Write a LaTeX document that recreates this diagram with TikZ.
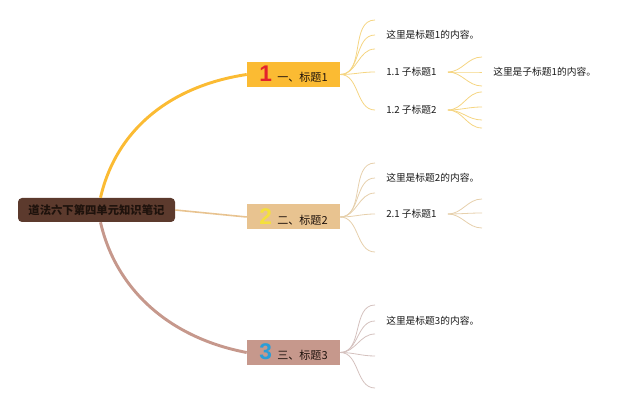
\documentclass[tikz,border=0pt]{standalone}
\usepackage{fontspec}
\setmainfont{Noto Sans CJK SC}
\newfontfamily\numfont{Liberation Sans}
\usepackage{tikz}
\usetikzlibrary{positioning}
\usepackage{xcolor}
\definecolor{rootbrown}{HTML}{5C3A2D}
\definecolor{roottext}{HTML}{1E120C}
\definecolor{goldA}{HTML}{FBBB33}
\definecolor{tanB}{HTML}{E8C390}
\definecolor{roseC}{HTML}{C6988C}
\definecolor{fanA}{HTML}{F5D582}
\definecolor{fanB}{HTML}{E6D0AC}
\definecolor{fanC}{HTML}{D4C1BE}
\definecolor{numred}{HTML}{E3232C}
\definecolor{numyellow}{HTML}{F4E03C}
\definecolor{numblue}{HTML}{2A9ED8}
\newcommand\bignum[2]{{\numfont\bfseries\fontsize{17}{17}\selectfont\textcolor{#1}{#2}}\hspace{4pt}}

\begin{document}
\begin{tikzpicture}[x=0.75pt,y=-0.75pt,
  topic/.style={minimum width=69.75pt,minimum height=18.75pt,inner sep=0pt,font=\fontsize{8.3}{10}\selectfont,text=roottext},
  leaf/.style={anchor=west,inner xsep=8.25pt,inner ysep=1pt,font=\fontsize{7.3}{9}\selectfont,text=black!90},
  fanA/.style={draw=fanA,line width=0.6pt},
  fanB/.style={draw=fanB,line width=0.6pt},
  fanC/.style={draw=fanC,line width=0.6pt}]
\useasboundingbox (0,0) rectangle (640,406);
\node[fill=rootbrown,rounded corners=3pt,minimum width=117.75pt,minimum height=18pt,inner sep=0pt,
  font=\bfseries\fontsize{8.5}{10}\selectfont,text=roottext] (root) at (96.5,210) {道法六下第四单元知识笔记};
\node[topic,fill=goldA] (t1) at (293.5,74.5) {\bignum{numred}{1}一、标题1};
\node[topic,fill=tanB] (t2) at (293.5,217) {\bignum{numyellow}{2}二、标题2};
\node[topic,fill=roseC] (t3) at (293.5,352.5) {\bignum{numblue}{3}三、标题3};
% main branches
\draw[goldA,line width=2.2pt] ([xshift=3pt]root.north) .. controls (116,130) and (170,86) .. (t1.west);
\draw[tanB,line width=1.2pt] (root.east) -- (t2.west);
\draw[roseC,line width=2.2pt] ([xshift=3pt]root.south) .. controls (116,290) and (170,338) .. (t3.west);
% leaves
\node[leaf] (c1) at (375,35) {这里是标题1的内容。};
\node[leaf] (s11) at (375,72) {1.1 子标题1};
\node[leaf] (s12) at (375,110) {1.2 子标题2};
\node[leaf] (c11) at (482,72) {这里是子标题1的内容。};
\node[leaf] (c2) at (375,178) {这里是标题2的内容。};
\node[leaf] (s21) at (375,214) {2.1 子标题1};
\node[leaf] (c3) at (375,321) {这里是标题3的内容。};
% empty ends
\coordinate (e1a) at (375,20);
\coordinate (e1b) at (375,49);
\coordinate (e11a) at (482,57);
\coordinate (e11b) at (482,86);
\coordinate (e12a) at (482,92);
\coordinate (e12b) at (482,107);
\coordinate (e12c) at (482,120);
\coordinate (e12d) at (482,128);
\coordinate (e2a) at (375,163);
\coordinate (e2b) at (375,193);
\coordinate (e2c) at (375,252);
\coordinate (e21a) at (482,199);
\coordinate (e21b) at (482,213);
\coordinate (e21c) at (482,228);
\coordinate (e3a) at (375,305);
\coordinate (e3b) at (375,334);
\coordinate (e3c) at (375,356);
\coordinate (e3d) at (375,388);
% fans
\foreach \e in {e1a,c1.west,e1b,s11.west,s12.west}
  \draw[fanA] (t1.east) to[out=0,in=180] (\e);
\foreach \e in {e11a,c11.west,e11b}
  \draw[fanA] (s11.east) to[out=0,in=180] (\e);
\foreach \e in {e12a,e12b,e12c,e12d}
  \draw[fanA] (s12.east) to[out=0,in=180] (\e);
\foreach \e in {e2a,c2.west,e2b,s21.west,e2c}
  \draw[fanB] (t2.east) to[out=0,in=180] (\e);
\foreach \e in {e21a,e21b,e21c}
  \draw[fanB] (s21.east) to[out=0,in=180] (\e);
\foreach \e in {e3a,c3.west,e3b,e3c,e3d}
  \draw[fanC] (t3.east) to[out=0,in=180] (\e);
\end{tikzpicture}
\end{document}
